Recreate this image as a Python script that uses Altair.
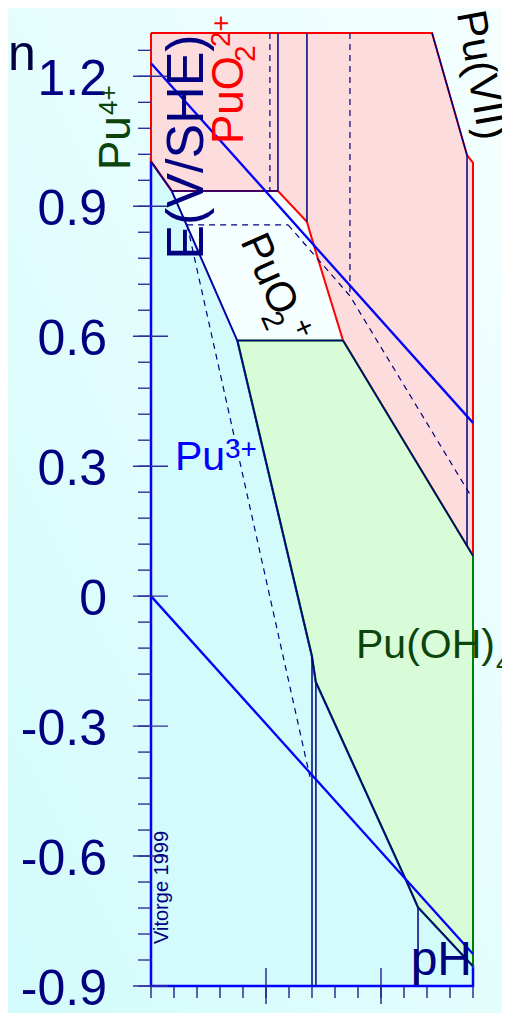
import altair as alt
import pandas as pd

# ---------------- data (pH, E in V/SHE) ----------------
# predominance regions (polygon vertices, in drawing order)
PU3_PH = [0, 0, 0.913, 2.17, 3.76, 7.0, 7.17, 11.13, 11.61, 14, 14, 0]
PU3_E = [-0.9, 1.004, 0.935, 0.783, 0.59, -0.138, -0.198, -0.66, -0.718, -0.854, -0.9, -0.9]

PUO2_PH = [0.913, 5.52, 6.78, 7.09, 8.35, 3.76, 2.17, 0.913]
PUO2_E = [0.935, 0.935, 0.864, 0.808, 0.59, 0.59, 0.783, 0.935]

PUO22_PH = [0, 12.22, 13.74, 14, 14, 8.35, 7.09, 6.78, 5.52, 0.913, 0, 0]
PUO22_E = [1.3, 1.3, 1.018, 1.0, 0.093, 0.59, 0.808, 0.864, 0.935, 0.935, 1.004, 1.3]

PUOH4_PH = [3.76, 8.35, 14, 14, 11.61, 11.13, 7.17, 7.0, 3.76]
PUOH4_E = [0.59, 0.59, 0.093, -0.854, -0.718, -0.66, -0.198, -0.138, 0.59]

# solid boundary lines
SOLID = [
    ([0, 0.913, 2.17, 3.76], [1.004, 0.935, 0.783, 0.59]),
    ([3.76, 7.0, 7.17, 11.13, 11.61, 14], [0.59, -0.138, -0.198, -0.66, -0.718, -0.854]),
    ([0.913, 5.52], [0.935, 0.935]),
    ([3.76, 8.35], [0.59, 0.59]),
    ([8.35, 14], [0.59, 0.093]),
    ([12.22, 13.74, 13.74], [1.3, 1.018, 0.116]),
    ([5.52, 5.52], [1.3, 0.935]),
    ([6.78, 6.78], [1.3, 0.864]),
    ([7.0, 7.0], [-0.138, -0.9]),
    ([7.17, 7.17], [-0.198, -0.9]),
    ([11.61, 11.61], [-0.718, -0.9]),
]
# dashed boundary lines
DASHED = [
    ([5.17, 5.17], [1.3, 0.935]),
    ([8.65, 8.65], [1.3, 0.693]),
    ([1.57, 5.96], [0.857, 0.857]),
    ([5.96, 8.65, 13.96], [0.857, 0.693, 0.227]),
    ([1.57, 6.91], [0.857, -0.417]),
]
# water stability limits
WATER = [
    ([0, 14], [1.23, 0.40]),
    ([0, 14], [0.0, -0.826]),
]

Y_MAJOR = [-0.9, -0.6, -0.3, 0, 0.3, 0.6, 0.9, 1.2]
Y_LABELS = ["-0.9", "-0.6", "-0.3", "0", "0.3", "0.6", "0.9", "1.2"]
Y_MINOR = [-0.9, -0.84, -0.78, -0.72, -0.66, -0.6, -0.54, -0.48, -0.42, -0.36,
           -0.3, -0.24, -0.18, -0.12, -0.06, 0, 0.06, 0.12, 0.18, 0.24, 0.3,
           0.36, 0.42, 0.48, 0.54, 0.6, 0.66, 0.72, 0.78, 0.84, 0.9, 0.96,
           1.02, 1.08, 1.14, 1.2, 1.26]
X_MINOR = [0, 1, 2, 3, 4, 5, 6, 7, 8, 9, 10, 11, 12, 13, 14]
X_MAJOR = [5, 10]

# ---------------- styling ----------------
W, H = 322, 953
FONT = "Liberation Sans"
NAVY = "#000080"
DKGREEN = "#0b450b"
xs = alt.Scale(domain=[0, 14], nice=False, zero=False)
ys = alt.Scale(domain=[-0.9, 1.3], nice=False, zero=False)
DUMMY = pd.DataFrame({"d": [0]})


def poly(ph, e, fill, stroke, sw):
    df = pd.DataFrame({"pH": ph, "E": e, "o": list(range(len(ph)))})
    return alt.Chart(df).mark_line(fill=fill, stroke=stroke, strokeWidth=sw).encode(
        x=alt.X("pH:Q", scale=xs, axis=None),
        y=alt.Y("E:Q", scale=ys, axis=None),
        order="o:Q",
    )


def lines(segs, color, sw, dash=None):
    rows = []
    for i, (ph, e) in enumerate(segs):
        for j, (a, b) in enumerate(zip(ph, e)):
            rows.append({"pH": a, "E": b, "s": i, "o": j})
    mk = dict(color=color, strokeWidth=sw)
    if dash:
        mk["strokeDash"] = dash
    return alt.Chart(pd.DataFrame(rows)).mark_line(**mk).encode(
        x=alt.X("pH:Q", scale=xs, axis=None),
        y=alt.Y("E:Q", scale=ys, axis=None),
        detail="s:N",
        order="o:Q",
    )


def label(txt, x, y, size, color, angle=0, align="left", baseline="alphabetic"):
    kw = dict(text=txt, fontSize=size, color=color, font=FONT, align=align, baseline=baseline)
    if angle:
        kw["angle"] = angle
    return alt.Chart(DUMMY).mark_text(**kw).encode(x=alt.value(x), y=alt.value(y))


background = alt.Chart(DUMMY).mark_rect(
    fill=alt.Gradient(
        gradient="linear",
        stops=[alt.GradientStop(color="#f5ffff", offset=0),
               alt.GradientStop(color="#d2fbfb", offset=1)],
        x1=1, y1=0, x2=0, y2=1,
    )
).encode(x=alt.value(-160), x2=alt.value(W + 40), y=alt.value(-30), y2=alt.value(H + 40))

layers = [
    background,
    poly(PU3_PH, PU3_E, "#d4fbfc", "#0000ff", 2.5),
    poly(PUO2_PH, PUO2_E, "#f6ffff", "#f6ffff", 0.5),
    poly(PUO22_PH, PUO22_E, "#fcdcdc", "#ff0000", 2),
    poly(PUOH4_PH, PUOH4_E, "#d8fcd8", "#008000", 2),
]

# region labels
layers += [
    label("Pu(OH)", 205, 625, 41, DKGREEN),
    label("4", 345, 639, 28, DKGREEN),
]

layers += [
    lines(DASHED, NAVY, 1.2, [6, 5]),
    lines(SOLID, NAVY, 1.5),
    lines(WATER, "#0000ff", 2.3),
]

# y ticks
ymaj = pd.DataFrame({"E": Y_MAJOR, "t": Y_LABELS})
ymin = pd.DataFrame({"E": Y_MINOR})
layers += [
    alt.Chart(ymin).mark_rule(color="#30309a", strokeWidth=1.4).encode(
        y=alt.Y("E:Q", scale=ys, axis=None), x=alt.value(-13), x2=alt.value(0)),
    alt.Chart(ymaj).mark_rule(color="#30309a", strokeWidth=1.4).encode(
        y=alt.Y("E:Q", scale=ys, axis=None), x=alt.value(-18), x2=alt.value(17)),
    alt.Chart(ymaj).mark_text(align="right", baseline="alphabetic", dy=19, fontSize=50,
                              font=FONT, color=NAVY).encode(
        y=alt.Y("E:Q", scale=ys, axis=None), x=alt.value(-44), text="t:N"),
]
# x ticks
xmin = pd.DataFrame({"pH": X_MINOR})
xmaj = pd.DataFrame({"pH": X_MAJOR})
layers += [
    alt.Chart(xmin).mark_rule(color="#20208a", strokeWidth=1.4).encode(
        x=alt.X("pH:Q", scale=xs, axis=None), y=alt.value(H), y2=alt.value(H + 12)),
    alt.Chart(xmaj).mark_rule(color="#20208a", strokeWidth=1.4).encode(
        x=alt.X("pH:Q", scale=xs, axis=None), y=alt.value(H - 18), y2=alt.value(H + 18)),
]

layers += [
    label("E(V/SHE)", 52, 114, 52, NAVY, angle=270, align="center"),
    label("pH", 321, 942, 48, NAVY, align="right"),
    label("Vitorge 1999", 17, 911, 20, NAVY, angle=270),
    label("n", -143, 37, 50, "#000040"),
    label("Pu", -21, 137, 44, DKGREEN, angle=270),
    label("4+", -34, 82, 26, DKGREEN, angle=270),
    label("PuO", 92, 111, 44, "#ff0000", angle=270),
    label("2", 104, 29, 30, "#ff0000", angle=270),
    label("2+", 79, 14, 28, "#ff0000", angle=270),
    label("PuO", 118, 241, 42, "#000000", angle=66, align="center", baseline="middle"),
    label("2", 121, 288, 30, "#000000", angle=66, align="center", baseline="middle"),
    label("+", 152, 295, 30, "#000000", angle=66, align="center", baseline="middle"),
    label("Pu", 24, 437, 41, "#0000ff"),
    label("3+", 74, 425, 28, "#0000ff"),
    label("Pu(VII)", 330, 42, 42, "#000000", angle=80, align="center", baseline="middle"),
]

chart = alt.layer(*layers).properties(
    width=W, height=H,
    autosize=alt.AutoSizeParams(type="none"),
    padding={"left": 143, "top": 25, "right": 29, "bottom": 27},
    background="#e4fdfd",
).configure_view(strokeWidth=0)

chart.save("out.html", embed_options={"renderer": "svg", "actions": False})
